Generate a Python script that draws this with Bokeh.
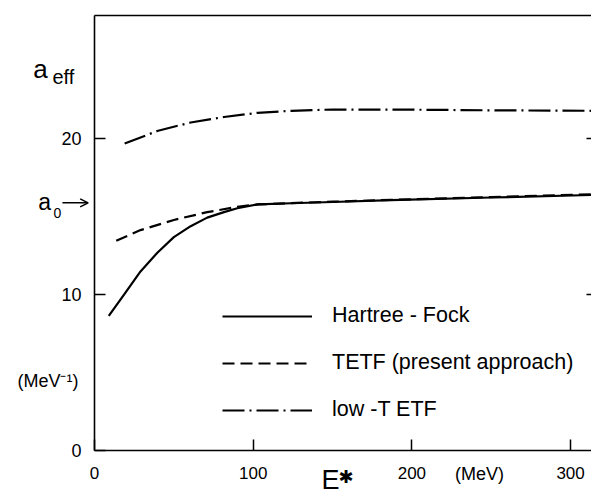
from bokeh.plotting import figure
from bokeh.models import (Range1d, LinearAxis, FixedTicker, Label, Legend,
                          LegendItem, Arrow, OpenHead)
from bokeh.embed import file_html
from bokeh.resources import INLINE

# ---- data ----
hf_E = [9, 18.5, 29, 39.6, 50, 60.6, 71, 81.6, 90, 103, 124, 150, 187, 250, 313]
hf_a = [8.65, 10.0, 11.5, 12.7, 13.7, 14.4, 14.95, 15.3, 15.55, 15.8, 15.87,
        15.95, 16.07, 16.24, 16.4]

tetf_E = [13.7, 29, 50, 71, 90, 103, 124, 150, 187, 250, 313]
tetf_a = [13.46, 14.15, 14.8, 15.3, 15.64, 15.8, 15.88, 15.97, 16.09, 16.27, 16.45]

etf_E = [19, 39.5, 60.6, 81.6, 102.7, 124, 150, 200, 250, 313]
etf_a = [19.7, 20.5, 21.05, 21.4, 21.67, 21.8, 21.88, 21.87, 21.83, 21.8]

a0 = 15.9
x_ticks = [0, 100, 200, 300]
y_ticks = [0, 10, 20]
right_ticks = [10, 20]
names = ["Hartree - Fock", "TETF (present approach)", "low -T ETF"]

# plotted window (the box drawn around the curves)
X_MAX = 313.17
Y_MAX = 27.9

FONT = "Liberation Sans"

p = figure(width=591, height=495,
           x_range=Range1d(-59.23, X_MAX), y_range=Range1d(-2.865, 28.87),
           output_backend="svg", toolbar_location=None,
           x_axis_location=None, y_axis_location=None,
           min_border=0, min_border_left=0, min_border_right=0,
           min_border_top=0, min_border_bottom=0)
p.outline_line_color = None
p.grid.visible = False
p.background_fill_color = "white"
p.border_fill_color = "white"

def style_axis(ax):
    ax.axis_line_color = "black"
    ax.axis_line_width = 1.6
    ax.major_tick_line_color = "black"
    ax.major_tick_line_width = 1.5
    ax.minor_tick_line_color = None
    ax.major_label_text_font = FONT
    ax.major_label_text_color = "black"

xb = LinearAxis(ticker=FixedTicker(ticks=x_ticks), fixed_location=0,
                bounds=(0, X_MAX))
style_axis(xb)
xb.major_tick_in = 11
xb.major_tick_out = 0
xb.major_label_standoff = 16
xb.major_label_text_font_size = "17px"
p.add_layout(xb, "below")

yl = LinearAxis(ticker=FixedTicker(ticks=y_ticks), fixed_location=0,
                bounds=(0, Y_MAX))
style_axis(yl)
yl.major_tick_in = 11
yl.major_tick_out = 0
yl.major_label_standoff = 13
yl.major_label_text_font_size = "18px"
p.add_layout(yl, "left")

yr = LinearAxis(ticker=FixedTicker(ticks=right_ticks), fixed_location=X_MAX,
                bounds=(0, Y_MAX))
style_axis(yr)
yr.axis_line_color = None
yr.major_tick_in = 5
yr.major_tick_out = 0
yr.major_label_overrides = {t: "" for t in right_ticks}
p.add_layout(yr, "right")

xt = LinearAxis(ticker=FixedTicker(ticks=[]), fixed_location=Y_MAX,
                bounds=(0, X_MAX))
style_axis(xt)
xt.major_tick_in = 0
xt.major_tick_out = 0
p.add_layout(xt, "above")

r_hf = p.line(hf_E, hf_a, line_color="black", line_width=2.2)
r_tetf = p.line(tetf_E, tetf_a, line_color="black", line_width=2.2,
                line_dash="12 6")
r_etf = p.line(etf_E, etf_a, line_color="black", line_width=2.2,
               line_dash="22 5 2 5")

legend = Legend(items=[LegendItem(label=names[0], renderers=[r_hf]),
                       LegendItem(label=names[1], renderers=[r_tetf]),
                       LegendItem(label=names[2], renderers=[r_etf])],
                location=(222, 73), glyph_width=90, glyph_height=20,
                label_height=20, label_standoff=20, spacing=22,
                padding=0, margin=0, border_line_color=None,
                background_fill_alpha=0,
                label_text_font=FONT, label_text_font_size="21.5px",
                label_text_color="black")
p.add_layout(legend, "center")

def lab(x, y, text, size, align="left", font=FONT):
    p.add_layout(Label(x=x, y=y, text=text, text_font=font,
                       text_font_size=size, text_align=align,
                       text_baseline="middle", text_color="black"))

# y-axis title a_eff and unit
lab(-38.6, 24.51, "a", "26px")
lab(-26.5, 23.99, "eff", "20px")
lab(-10.1, 4.46, "(MeV⁻¹)", "18px", align="right")
# a0 marker
lab(-35.5, 15.92, "a", "23px")
lab(-25.8, 15.27, "0", "14px")
p.add_layout(Arrow(x_start=-20.2, y_start=a0, x_end=-4.0, y_end=a0,
                   line_width=1.5, line_color="black",
                   end=OpenHead(size=8, line_width=1.5, line_color="black")))
# x-axis title
lab(143.0, -1.88, "E", "27px")
lab(153.7, -1.62, "✱", "18px", font="DejaVu Sans")
lab(242.6, -1.46, "(MeV)", "18px", align="center")

open("out.html", "w").write(file_html(p, INLINE))
